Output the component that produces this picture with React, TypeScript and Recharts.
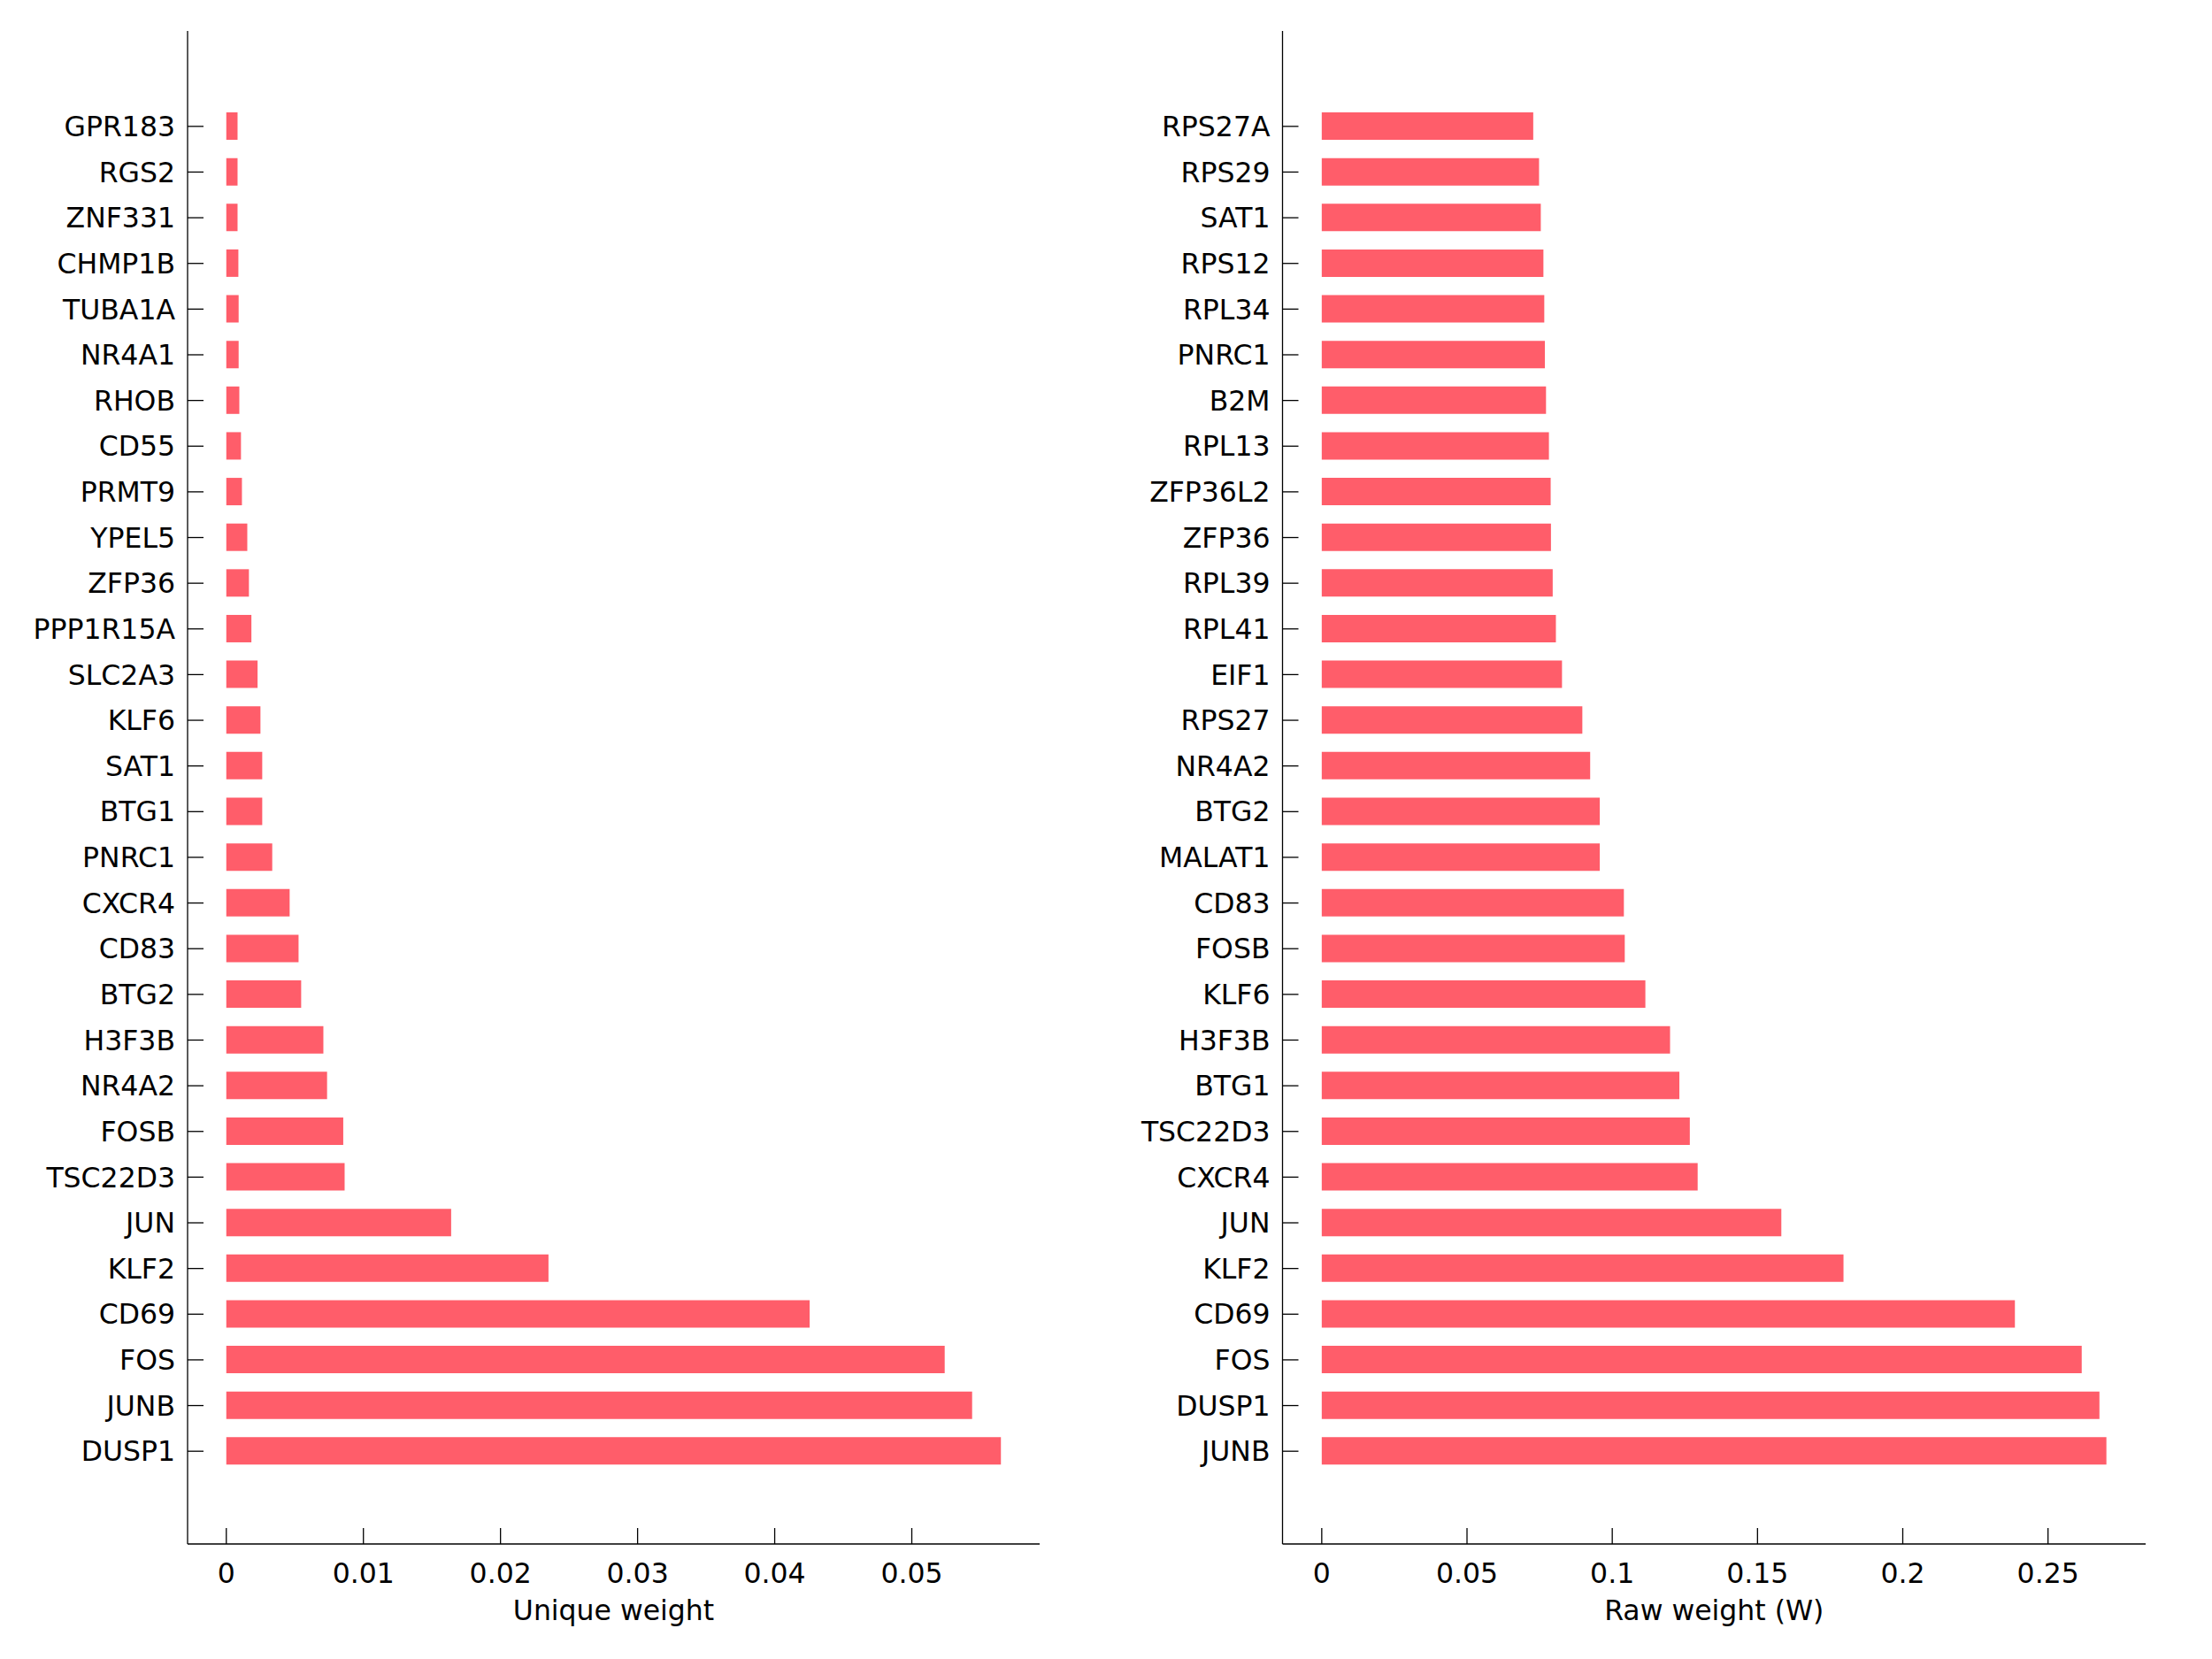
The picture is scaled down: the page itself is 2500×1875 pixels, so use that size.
import React from 'react';
import { BarChart, Bar, XAxis, YAxis } from 'recharts';

// left panel: unique weight per gene (top row first)
const uniqueGenes = [
  'GPR183', 'RGS2', 'ZNF331', 'CHMP1B', 'TUBA1A', 'NR4A1', 'RHOB', 'CD55', 'PRMT9', 'YPEL5',
  'ZFP36', 'PPP1R15A', 'SLC2A3', 'KLF6', 'SAT1', 'BTG1', 'PNRC1', 'CXCR4', 'CD83', 'BTG2',
  'H3F3B', 'NR4A2', 'FOSB', 'TSC22D3', 'JUN', 'KLF2', 'CD69', 'FOS', 'JUNB', 'DUSP1',
];
const uniqueWeights = [
  0.00082, 0.00082, 0.00082, 0.00088, 0.0009, 0.0009, 0.00095, 0.00107, 0.00114, 0.00153,
  0.00165, 0.00183, 0.00228, 0.00249, 0.00262, 0.00262, 0.00335, 0.00462, 0.00527, 0.00546,
  0.00708, 0.00735, 0.00853, 0.00863, 0.0164, 0.0235, 0.04255, 0.0524, 0.0544, 0.0565,
];

// right panel: raw weight (W) per gene
const rawGenes = [
  'RPS27A', 'RPS29', 'SAT1', 'RPS12', 'RPL34', 'PNRC1', 'B2M', 'RPL13', 'ZFP36L2', 'ZFP36',
  'RPL39', 'RPL41', 'EIF1', 'RPS27', 'NR4A2', 'BTG2', 'MALAT1', 'CD83', 'FOSB', 'KLF6',
  'H3F3B', 'BTG1', 'TSC22D3', 'CXCR4', 'JUN', 'KLF2', 'CD69', 'FOS', 'DUSP1', 'JUNB',
];
const rawWeights = [
  0.0728, 0.0748, 0.0754, 0.0763, 0.0766, 0.0768, 0.0772, 0.0782, 0.0788, 0.0789,
  0.0795, 0.0806, 0.0827, 0.0897, 0.0924, 0.0957, 0.0957, 0.104, 0.1043, 0.1114,
  0.1199, 0.1231, 0.1267, 0.1294, 0.1582, 0.1796, 0.2386, 0.2616, 0.2677, 0.2701,
];

const uniqueTicks = [0, 0.01, 0.02, 0.03, 0.04, 0.05];
const rawTicks = [0, 0.05, 0.1, 0.15, 0.2, 0.25];

const BAR_COLOR = '#FF5D6A';
const FONT = '"DejaVu Sans", Verdana, sans-serif';
const FONT_SIZE = 31.5;

interface PanelProps {
  genes: string[];
  weights: number[];
  ticks: number[];
  label: string;
  axisWidth: number;
  left: number;
}

const WeightPanel: React.FC<PanelProps> = ({ genes, weights, ticks, label, axisWidth, left }) => {
  const data = genes.map((gene, i) => ({ gene, weight: weights[i] }));
  const max = Math.max(...weights);
  const tickStyle = { fill: '#000', fontSize: FONT_SIZE, fontFamily: FONT };

  return (
    <div style={{ position: 'absolute', left, top: 0 }}>
      <BarChart
        width={1250}
        height={1875}
        data={data}
        layout="vertical"
        margin={{ top: 35, right: 75, bottom: 30, left: 0 }}
      >
        <XAxis
          type="number"
          domain={[-0.05 * max, 1.05 * max]}
          allowDataOverflow
          ticks={ticks}
          height={100}
          tickSize={-18}
          tickMargin={40}
          tick={tickStyle}
          axisLine={{ stroke: '#000', strokeWidth: 1.3 }}
          tickLine={{ stroke: '#000', strokeWidth: 1.3 }}
          label={{ value: label, position: 'insideBottom', offset: 14, fill: '#000', fontSize: FONT_SIZE, fontFamily: FONT }}
        />
        <YAxis
          type="category"
          dataKey="gene"
          width={axisWidth}
          interval={0}
          tickSize={-18}
          tickMargin={32}
          tick={tickStyle}
          axisLine={{ stroke: '#000', strokeWidth: 1.3 }}
          tickLine={{ stroke: '#000', strokeWidth: 1.3 }}
          padding={{ top: 82, bottom: 79 }}
        />
        <Bar dataKey="weight" fill={BAR_COLOR} barSize={31} isAnimationActive={false} />
      </BarChart>
    </div>
  );
};

export default function App() {
  return (
    <div style={{ position: 'absolute', left: 0, top: 0, width: 2500, height: 1875, background: '#fff' }}>
      <WeightPanel genes={uniqueGenes} weights={uniqueWeights} ticks={uniqueTicks} label="Unique weight" axisWidth={212} left={0} />
      <WeightPanel genes={rawGenes} weights={rawWeights} ticks={rawTicks} label="Raw weight (W)" axisWidth={199.5} left={1250} />
    </div>
  );
}
